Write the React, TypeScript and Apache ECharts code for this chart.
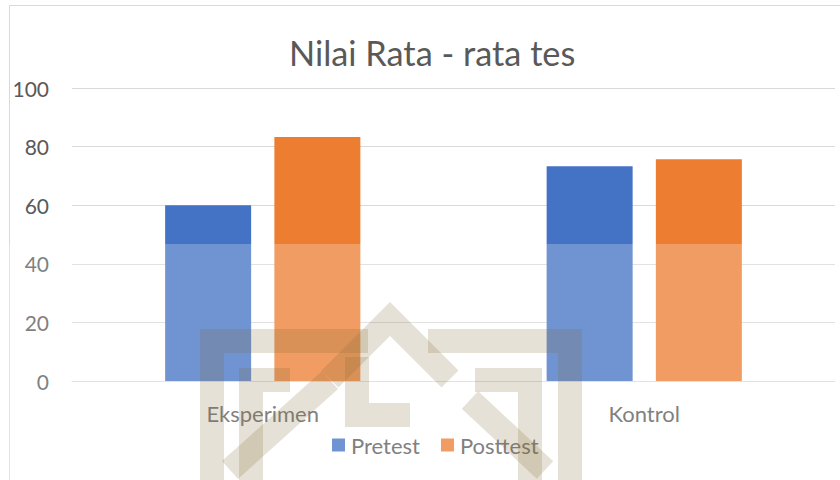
import React, { useEffect, useRef } from "react";
import * as echarts from "echarts";

const categories = ["Eksperimen", "Kontrol"];
const pretest = [60, 73.3];
const posttest = [83.3, 75.7];
const yTicks = [0, 20, 40, 60, 80, 100];

const FONT = "Lato, 'Open Sans', sans-serif";
const TEXT = "#595959";
const WM = "rgba(130,105,50,0.2)";

export default function App() {
  const ref = useRef<HTMLDivElement>(null);
  useEffect(() => {
    document.body.style.margin = "0";
    const chart = echarts.init(ref.current!, null, { renderer: "svg" });
    const wmLine = (points: number[][]) => ({
      type: "polyline",
      shape: { points },
      style: { stroke: WM, lineWidth: 24, fill: "none", lineJoin: "miter" },
      z: 90,
      silent: true,
    });
    chart.setOption({
      animation: false,
      backgroundColor: "#ffffff",
      textStyle: { fontFamily: FONT },
      title: {
        text: "Nilai Rata - rata tes",
        left: 284,
        top: 30,
        textStyle: { fontFamily: FONT, fontSize: 34.3, fontWeight: "normal", color: TEXT },
      },
      legend: {
        data: ["Pretest", "Posttest"],
        left: 327,
        top: 429,
        itemWidth: 13,
        itemHeight: 13,
        itemGap: 21,
        icon: "rect",
        textStyle: { fontFamily: FONT, fontSize: 22, color: TEXT, padding: [0, 0, 0, 1] },
      },
      grid: { left: 72, right: 5, top: 88, bottom: 99, containLabel: false },
      xAxis: {
        type: "category",
        data: categories,
        axisLine: { lineStyle: { color: "#D9D9D9", width: 1 } },
        axisTick: { show: false },
        axisLabel: { fontFamily: FONT, fontSize: 22, color: TEXT, margin: 21 },
      },
      yAxis: {
        type: "value",
        min: yTicks[0],
        max: yTicks[yTicks.length - 1],
        interval: 20,
        axisLine: { show: false },
        axisTick: { show: false },
        splitLine: { lineStyle: { color: "#D9D9D9", width: 1 } },
        axisLabel: { fontFamily: FONT, fontSize: 21, color: TEXT, margin: 23 },
      },
      series: [
        {
          name: "Pretest",
          type: "bar",
          data: pretest,
          barWidth: 86,
          barGap: "27%",
          itemStyle: { color: "#4472C4" },
        },
        {
          name: "Posttest",
          type: "bar",
          data: posttest,
          barWidth: 86,
          barGap: "27%",
          itemStyle: { color: "#ED7D31" },
        },
      ],
      graphic: [
        {
          type: "rect",
          shape: { x: 9.5, y: 5.5, width: 840, height: 480 },
          style: { fill: "none", stroke: "#D9D9D9", lineWidth: 1 },
          z: 1,
          silent: true,
        },
        {
          type: "rect",
          shape: { x: 0, y: 244, width: 840, height: 240 },
          style: { fill: "rgba(255,255,255,0.24)" },
          z: 80,
          silent: true,
        },
        wmLine([[212, 490], [212, 341], [368, 341]]),
        wmLine([[428, 341], [570, 341], [570, 490]]),
        wmLine([[330, 379], [390, 319], [450, 379]]),
        wmLine([[251, 490], [251, 380], [290, 380]]),
        wmLine([[475, 380], [530, 380], [530, 490]]),
        wmLine([[357, 357], [357, 415], [410, 415]]),
        wmLine([[230, 470], [330, 380]]),
        wmLine([[470, 400], [545, 470]]),
      ],
    });
    return () => chart.dispose();
  }, []);
  return (
    <div
      ref={ref}
      style={{ position: "fixed", left: 0, top: 0, width: 840, height: 480 }}
    />
  );
}
